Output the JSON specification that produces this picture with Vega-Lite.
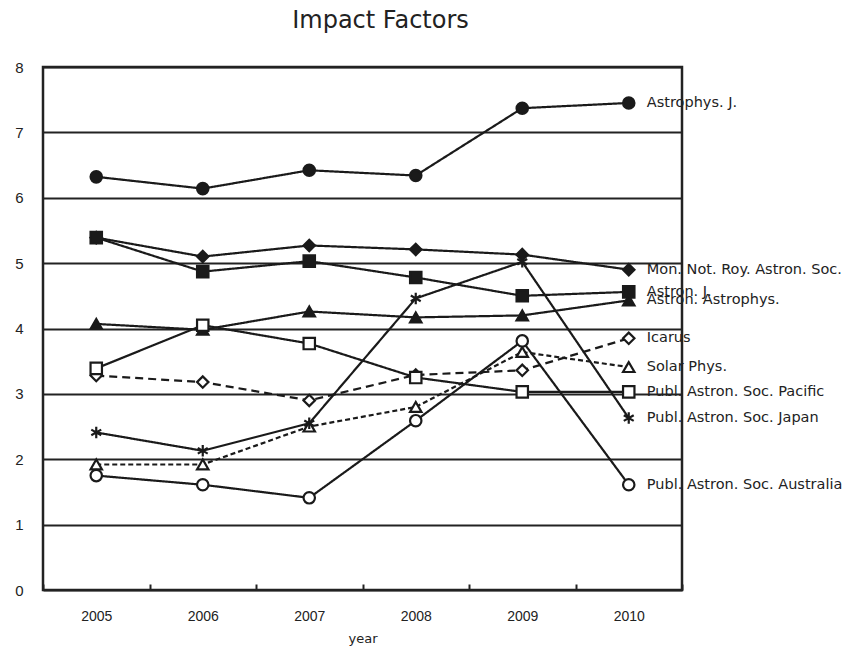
{
  "$schema": "https://vega.github.io/schema/vega-lite/v6.json",
  "autosize": "none",
  "width": 639,
  "height": 523,
  "padding": {"left": 43, "top": 67, "right": 162, "bottom": 57},
  "background": "white",
  "title": {"text": "Impact Factors", "font": "DejaVu Sans", "fontSize": 24, "fontWeight": "normal", "color": "#222", "anchor": "middle", "dx": 18, "offset": 8, "baseline": "alphabetic"},
  "config": {
    "view": {"stroke": "#222", "strokeWidth": 2.5},
    "axis": {"labelFont": "Liberation Sans", "labelFontSize": 14, "labelColor": "#222", "titleFont": "DejaVu Sans", "titleFontSize": 13, "titleFontWeight": "normal", "titleColor": "#222"}
  },
  "data": {"values": [
    {"series": "Astrophys. J.", "year": "2005", "value": 6.32},
    {"series": "Astrophys. J.", "year": "2006", "value": 6.14},
    {"series": "Astrophys. J.", "year": "2007", "value": 6.42},
    {"series": "Astrophys. J.", "year": "2008", "value": 6.34},
    {"series": "Astrophys. J.", "year": "2009", "value": 7.37},
    {"series": "Astrophys. J.", "year": "2010", "value": 7.45},
    {"series": "Mon. Not. Roy. Astron. Soc.", "year": "2005", "value": 5.39},
    {"series": "Mon. Not. Roy. Astron. Soc.", "year": "2006", "value": 5.10},
    {"series": "Mon. Not. Roy. Astron. Soc.", "year": "2007", "value": 5.27},
    {"series": "Mon. Not. Roy. Astron. Soc.", "year": "2008", "value": 5.21},
    {"series": "Mon. Not. Roy. Astron. Soc.", "year": "2009", "value": 5.13},
    {"series": "Mon. Not. Roy. Astron. Soc.", "year": "2010", "value": 4.90},
    {"series": "Astron. J.", "year": "2005", "value": 5.39},
    {"series": "Astron. J.", "year": "2006", "value": 4.87},
    {"series": "Astron. J.", "year": "2007", "value": 5.03},
    {"series": "Astron. J.", "year": "2008", "value": 4.78},
    {"series": "Astron. J.", "year": "2009", "value": 4.50},
    {"series": "Astron. J.", "year": "2010", "value": 4.56},
    {"series": "Astron. Astrophys.", "year": "2005", "value": 4.07},
    {"series": "Astron. Astrophys.", "year": "2006", "value": 3.98},
    {"series": "Astron. Astrophys.", "year": "2007", "value": 4.26},
    {"series": "Astron. Astrophys.", "year": "2008", "value": 4.17},
    {"series": "Astron. Astrophys.", "year": "2009", "value": 4.20},
    {"series": "Astron. Astrophys.", "year": "2010", "value": 4.43},
    {"series": "Icarus", "year": "2005", "value": 3.28},
    {"series": "Icarus", "year": "2006", "value": 3.18},
    {"series": "Icarus", "year": "2007", "value": 2.90},
    {"series": "Icarus", "year": "2008", "value": 3.29},
    {"series": "Icarus", "year": "2009", "value": 3.36},
    {"series": "Icarus", "year": "2010", "value": 3.85},
    {"series": "Solar Phys.", "year": "2005", "value": 1.92},
    {"series": "Solar Phys.", "year": "2006", "value": 1.92},
    {"series": "Solar Phys.", "year": "2007", "value": 2.50},
    {"series": "Solar Phys.", "year": "2008", "value": 2.80},
    {"series": "Solar Phys.", "year": "2009", "value": 3.64},
    {"series": "Solar Phys.", "year": "2010", "value": 3.41},
    {"series": "Publ. Astron. Soc. Pacific", "year": "2005", "value": 3.39},
    {"series": "Publ. Astron. Soc. Pacific", "year": "2006", "value": 4.05},
    {"series": "Publ. Astron. Soc. Pacific", "year": "2007", "value": 3.77},
    {"series": "Publ. Astron. Soc. Pacific", "year": "2008", "value": 3.25},
    {"series": "Publ. Astron. Soc. Pacific", "year": "2009", "value": 3.03},
    {"series": "Publ. Astron. Soc. Pacific", "year": "2010", "value": 3.03},
    {"series": "Publ. Astron. Soc. Japan", "year": "2005", "value": 2.41},
    {"series": "Publ. Astron. Soc. Japan", "year": "2006", "value": 2.13},
    {"series": "Publ. Astron. Soc. Japan", "year": "2007", "value": 2.55},
    {"series": "Publ. Astron. Soc. Japan", "year": "2008", "value": 4.46},
    {"series": "Publ. Astron. Soc. Japan", "year": "2009", "value": 5.02},
    {"series": "Publ. Astron. Soc. Japan", "year": "2010", "value": 2.63},
    {"series": "Publ. Astron. Soc. Australia", "year": "2005", "value": 1.75},
    {"series": "Publ. Astron. Soc. Australia", "year": "2006", "value": 1.61},
    {"series": "Publ. Astron. Soc. Australia", "year": "2007", "value": 1.41},
    {"series": "Publ. Astron. Soc. Australia", "year": "2008", "value": 2.59},
    {"series": "Publ. Astron. Soc. Australia", "year": "2009", "value": 3.81},
    {"series": "Publ. Astron. Soc. Australia", "year": "2010", "value": 1.61}
  ]},
  "encoding": {
    "x": {"field": "year", "type": "ordinal", "scale": {"type": "band", "paddingInner": 0, "paddingOuter": 0},
      "axis": {"title": "year", "labelAngle": 0, "domain": false, "tickBand": "extent", "ticks": true, "tickSize": -6, "tickColor": "#222", "tickWidth": 2, "labelPadding": 25, "titlePadding": 9}},
    "y": {"field": "value", "type": "quantitative", "scale": {"domain": [0, 8], "nice": false, "zero": true},
      "axis": {"title": null, "values": [0, 1, 2, 3, 4, 5, 6, 7, 8], "domain": false, "ticks": false, "labelPadding": 20, "grid": true, "gridColor": "#222", "gridWidth": 2, "gridOpacity": 1, "labelFontSize": 15}}
  },
  "layer": [
    {
      "mark": {"type": "line", "color": "#1a1a1a"},
      "encoding": {
        "detail": {"field": "series"},
        "strokeWidth": {"field": "series", "type": "nominal", "legend": null, "scale": {"domain": ["Astrophys. J.", "Mon. Not. Roy. Astron. Soc.", "Astron. J.", "Astron. Astrophys.", "Icarus", "Solar Phys.", "Publ. Astron. Soc. Pacific", "Publ. Astron. Soc. Japan", "Publ. Astron. Soc. Australia"], "range": [2.2, 2.2, 2.2, 2.2, 3, 3, 3.2, 3, 2.4]}},
        "strokeDash": {"field": "series", "type": "nominal", "legend": null, "scale": {"domain": ["Astrophys. J.", "Mon. Not. Roy. Astron. Soc.", "Astron. J.", "Astron. Astrophys.", "Icarus", "Solar Phys.", "Publ. Astron. Soc. Pacific", "Publ. Astron. Soc. Japan", "Publ. Astron. Soc. Australia"], "range": [[1, 0], [1, 0], [1, 0], [1, 0], [8, 5], [5, 3], [1, 0], [1, 0], [1, 0]]}}
      }
    },
    {
      "mark": {"type": "point", "filled": false, "opacity": 1, "stroke": "#1a1a1a", "size": 130},
      "encoding": {
        "shape": {"field": "series", "type": "nominal", "legend": null, "scale": {"domain": ["Astrophys. J.", "Mon. Not. Roy. Astron. Soc.", "Astron. J.", "Astron. Astrophys.", "Icarus", "Solar Phys.", "Publ. Astron. Soc. Pacific", "Publ. Astron. Soc. Japan", "Publ. Astron. Soc. Australia"], "range": ["circle", "diamond", "square", "triangle-up", "diamond", "triangle-up", "square", "M0,-1L0,1M-0.87,-0.5L0.87,0.5M-0.87,0.5L0.87,-0.5", "circle"]}},
        "fill": {"field": "series", "type": "nominal", "legend": null, "scale": {"domain": ["Astrophys. J.", "Mon. Not. Roy. Astron. Soc.", "Astron. J.", "Astron. Astrophys.", "Icarus", "Solar Phys.", "Publ. Astron. Soc. Pacific", "Publ. Astron. Soc. Japan", "Publ. Astron. Soc. Australia"], "range": ["#1a1a1a", "#1a1a1a", "#1a1a1a", "#1a1a1a", "white", "white", "white", "white", "white"]}},
        "strokeWidth": {"field": "series", "type": "nominal", "legend": null, "scale": {"domain": ["Astrophys. J.", "Mon. Not. Roy. Astron. Soc.", "Astron. J.", "Astron. Astrophys.", "Icarus", "Solar Phys.", "Publ. Astron. Soc. Pacific", "Publ. Astron. Soc. Japan", "Publ. Astron. Soc. Australia"], "range": [2, 2, 2, 2, 2, 2, 2, 1.5, 2]}}
      }
    },
    {
      "transform": [{"filter": "datum.year == '2010'"}],
      "mark": {"type": "text", "align": "left", "baseline": "middle", "dx": 18, "font": "DejaVu Sans", "fontSize": 14.5, "color": "#222"},
      "encoding": {"text": {"field": "series"}}
    }
  ]
}
